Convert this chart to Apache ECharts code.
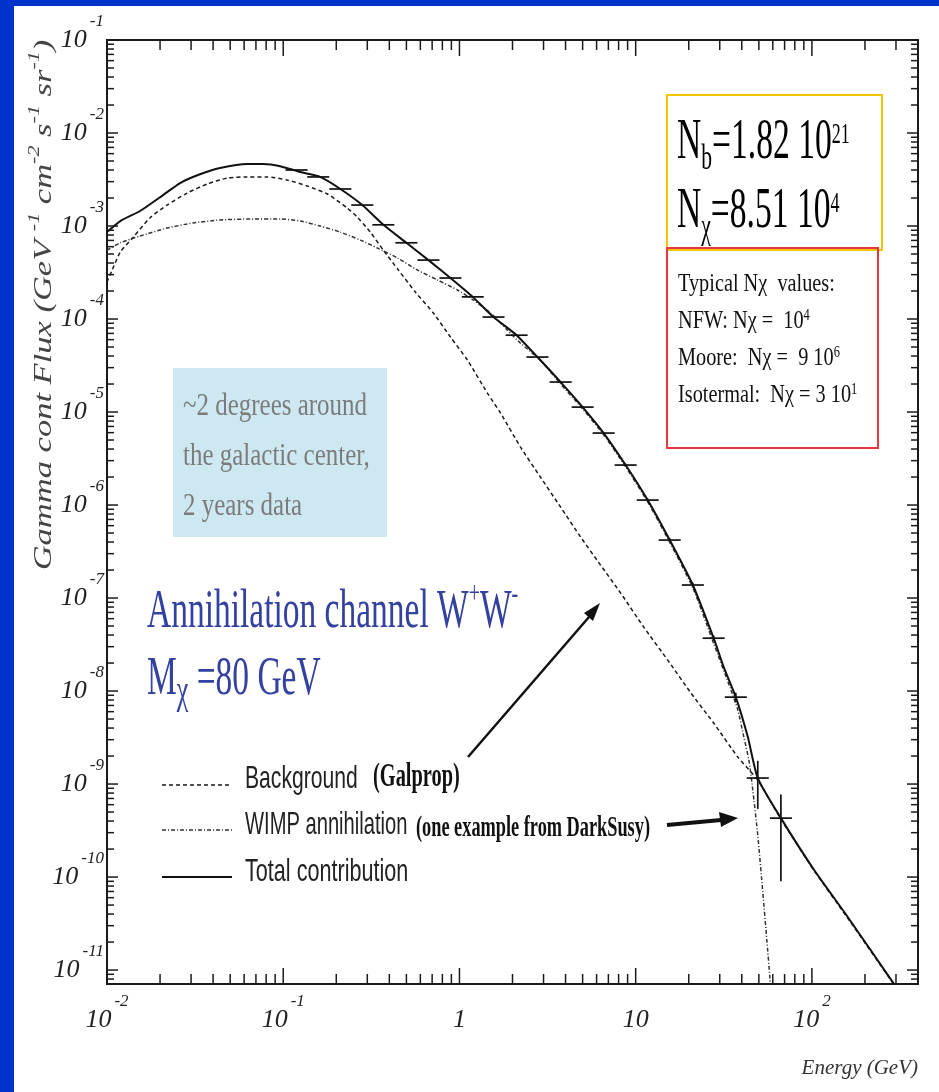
<!DOCTYPE html>
<html>
<head>
<meta charset="utf-8">
<script src="https://cdn.jsdelivr.net/npm/echarts@6/dist/echarts.min.js"></script>
<style>
  html, body { margin: 0; padding: 0; background: #fff; }
  #chart { width: 939px; height: 1092px; }
</style>
</head>
<body>
<div id="chart"></div>
<script>
// values: energy in GeV, flux in GeV^-1 cm^-2 s^-1 sr^-1
const totalEnergy = [0.01, 0.0119, 0.0154, 0.0208, 0.026, 0.0337, 0.0438, 0.0624, 0.0769, 0.0961, 0.125, 0.162, 0.211, 0.281, 0.37, 0.5, 0.667, 0.889, 1.19, 1.56, 2.11, 2.77, 3.75, 5.0, 6.58, 8.77, 11.7, 15.6, 21.1, 27.7, 31.6, 37.0, 43.3, 49.3, 66.7, 103, 160, 292];
const totalFlux = [8.6e-4, 1.13e-3, 1.45e-3, 2.15e-3, 2.9e-3, 3.6e-3, 4.2e-3, 4.65e-3, 4.65e-3, 4.4e-3, 3.8e-3, 3.37e-3, 2.5e-3, 1.68e-3, 1.03e-3, 6.6e-4, 4.3e-4, 2.76e-4, 1.73e-4, 1.05e-4, 6.7e-5, 3.9e-5, 2.1e-5, 1.13e-5, 5.94e-6, 2.69e-6, 1.13e-6, 4.2e-7, 1.38e-7, 3.7e-8, 1.81e-8, 8.6e-9, 3.2e-9, 1.16e-9, 4.3e-10, 1.19e-10, 3.7e-11, 7.1e-12];

const bgEnergy = [0.01, 0.0107, 0.0119, 0.0141, 0.0175, 0.0219, 0.0285, 0.037, 0.0481, 0.0624, 0.0811, 0.105, 0.137, 0.178, 0.231, 0.263, 0.312, 0.37, 0.45, 0.562, 0.711, 0.889, 1.11, 1.44, 1.71, 2.22, 2.88, 3.75, 4.87, 6.32, 8.22, 11.1, 15.2, 20.6, 27.7, 38.0, 49.3, 66.7, 103, 160, 292];
const bgFlux = [2.5e-4, 3.37e-4, 5.25e-4, 7.6e-4, 1.22e-3, 1.68e-3, 2.26e-3, 2.83e-3, 3.28e-3, 3.37e-3, 3.37e-3, 3.13e-3, 2.69e-3, 2.21e-3, 1.56e-3, 1.25e-3, 8.6e-4, 5.5e-4, 3.37e-4, 1.95e-4, 1.16e-4, 6.4e-5, 3.62e-5, 1.6e-5, 9.75e-6, 4.2e-6, 2.0e-6, 9.5e-7, 4.53e-7, 2.26e-7, 1.13e-7, 4.88e-8, 2.15e-8, 9.5e-9, 4.53e-9, 1.95e-9, 1.1e-9, 4.2e-10, 1.17e-10, 3.6e-11, 7.0e-12];

const wimpEnergy = [0.01, 0.0119, 0.0154, 0.0219, 0.0308, 0.0438, 0.065, 0.0961, 0.125, 0.162, 0.211, 0.274, 0.342, 0.445, 0.577, 0.75, 0.975, 1.2, 1.5, 1.87, 2.22, 2.88, 3.75, 5.0, 6.58, 8.77, 11.7, 15.6, 21.1, 27.7, 34.7, 38.0, 41.1, 43.9, 46.2, 49.3, 52.7, 55.5, 57.7, 58.4];
const wimpFlux = [5.5e-4, 6.6e-4, 7.8e-4, 9.5e-4, 1.08e-3, 1.16e-3, 1.19e-3, 1.19e-3, 1.13e-3, 1.0e-3, 8.6e-4, 7.06e-4, 5.8e-4, 4.53e-4, 3.37e-4, 2.63e-4, 2.05e-4, 1.6e-4, 1.16e-4, 7.6e-5, 5.5e-5, 3.6e-5, 2.0e-5, 1.08e-5, 5.7e-6, 2.58e-6, 1.08e-6, 3.98e-7, 1.29e-7, 3.25e-8, 1.03e-8, 6.25e-9, 3.2e-9, 1.81e-9, 8.6e-10, 2.83e-10, 6.7e-11, 2.1e-11, 8.4e-12, 5.0e-12];

// simulated data points (crosses): bin centre, flux and flux error
const pointEnergy = [0.119, 0.158, 0.211, 0.281, 0.37, 0.5, 0.667, 0.889, 1.19, 1.56, 2.11, 2.77, 3.75, 5.0, 6.58, 8.77, 11.7, 15.6, 21.1, 27.7, 37.0, 49.3, 66.7];
const pointFlux = [4.0e-3, 3.37e-3, 2.5e-3, 1.68e-3, 1.03e-3, 6.6e-4, 4.3e-4, 2.76e-4, 1.73e-4, 1.05e-4, 6.7e-5, 3.9e-5, 2.1e-5, 1.13e-5, 5.94e-6, 2.69e-6, 1.13e-6, 4.2e-7, 1.38e-7, 3.7e-8, 8.6e-9, 1.16e-9, 4.3e-10];
const pointErr = [4e-5, 3e-5, 2.5e-5, 2e-5, 1.3e-5, 9e-6, 6e-6, 4e-6, 3e-6, 2e-6, 1.3e-6, 8e-7, 5e-7, 3e-7, 1.7e-7, 9e-8, 4.5e-8, 2e-8, 8e-9, 2.5e-9, 1e-9, 6.2e-10, 3.4e-10];
const binHalfDex = 0.0625; // half width of an energy bin, in decades

// axes (decade exponents that get a label)
const xDecades = [-2, -1, 0, 1, 2];
const yDecades = [-11, -10, -9, -8, -7, -6, -5, -4, -3, -2, -1];
const xMin = 0.01, xMax = 400;
const yMin = 7.08e-12, yMax = 0.1;

const lg = Math.log10;
const serif = '"Liberation Serif", "Times New Roman", serif';
const sans = '"Liberation Sans", Arial, sans-serif';

const toXY = (es, fs) => es.map((e, i) => [lg(e), lg(fs[i])]);

// 10^n label with rich text superscript
const decadeLabel = (v, decades) => {
  const n = Math.round(v);
  if (Math.abs(v - n) > 1e-6 || decades.indexOf(n) < 0) return '';
  if (n === 0) return '{b|1}';
  if (n === 1) return '{b|10}';
  return '{b|10}{s|' + n + '}';
};
const labelRich = {
  b: { fontFamily: serif, fontStyle: 'italic', fontSize: 26, lineHeight: 54, color: '#222', verticalAlign: 'middle' },
  s: { fontFamily: serif, fontStyle: 'italic', fontSize: 17, lineHeight: 17, color: '#222', verticalAlign: 'top', padding: [0, 0, 0, 3] }
};

// log-spaced tick marks (1..9 per decade), drawn on all four sides
const xTicks = [];
for (let d = xDecades[0]; d <= xDecades[xDecades.length - 1]; d++) {
  for (let k = 1; k <= 9; k++) {
    const v = lg(k) + d;
    if (v < lg(xMax) - 1e-9) xTicks.push([v, lg(yMin), k === 1 ? 1 : 0]);
  }
}
const yTicks = [];
for (let d = yDecades[0] - 1; d <= yDecades[yDecades.length - 1]; d++) {
  for (let k = 1; k <= 9; k++) {
    const v = lg(k) + d;
    if (v > lg(yMin) + 1e-9 && v <= lg(yMax) + 1e-9) yTicks.push([lg(xMin), v, k === 1 ? 1 : 0]);
  }
}

const tickStyle = { stroke: '#1a1a1a', lineWidth: 1.5 };

const chart = echarts.init(document.getElementById('chart'));

const option = {
  backgroundColor: '#fff',
  animation: false,
  grid: {
    left: 107, top: 40, right: 21, bottom: 108,
    show: true, borderColor: '#1a1a1a', borderWidth: 2,
    outerBoundsMode: 'none'
  },
  xAxis: {
    type: 'value', min: lg(xMin), max: lg(xMax), splitNumber: 5,
    axisLine: { show: false }, axisTick: { show: false }, splitLine: { show: false },
    axisLabel: { margin: 9, formatter: v => decadeLabel(v, xDecades), rich: labelRich },
    name: 'Energy (GeV)', nameLocation: 'end', nameGap: 0,
    nameTextStyle: {
      fontFamily: serif, fontStyle: 'italic', fontSize: 21, color: '#333',
      align: 'right', verticalAlign: 'top', padding: [74, 0, 0, 0]
    }
  },
  yAxis: {
    type: 'value', min: lg(yMin), max: lg(yMax), splitNumber: 10,
    axisLine: { show: false }, axisTick: { show: false }, splitLine: { show: false },
    axisLabel: { margin: 3, formatter: v => decadeLabel(v, yDecades), rich: labelRich }
  },
  series: [
    {
      name: 'Background', type: 'line', data: toXY(bgEnergy, bgFlux),
      symbol: 'none', smooth: 0.2, z: 3,
      lineStyle: { color: '#1a1a1a', width: 1.5, type: [4, 3] }
    },
    {
      name: 'WIMP annihilation', type: 'line', data: toXY(wimpEnergy, wimpFlux),
      symbol: 'none', smooth: 0.2, z: 3,
      lineStyle: { color: '#333', width: 1.5, type: [4, 2, 1, 2] }
    },
    {
      name: 'Total contribution', type: 'line', data: toXY(totalEnergy, totalFlux),
      symbol: 'none', smooth: 0.2, z: 4,
      lineStyle: { color: '#111', width: 2 }
    },
    {
      name: 'Data', type: 'custom', z: 5, silent: true,
      encode: { x: 0, y: 1 },
      data: pointEnergy.map((e, i) => [lg(e), lg(pointFlux[i]), lg(pointFlux[i] - pointErr[i]), lg(pointFlux[i] + pointErr[i])]),
      renderItem: (params, api) => {
        const x = api.value(0), y = api.value(1);
        const c = api.coord([x, y]);
        const l = api.coord([x - binHalfDex, y]);
        const r = api.coord([x + binHalfDex, y]);
        const lo = api.coord([x, api.value(2)]);
        const hi = api.coord([x, api.value(3)]);
        const st = { stroke: '#111', lineWidth: 1.7 };
        return {
          type: 'group', children: [
            { type: 'line', shape: { x1: l[0], y1: c[1], x2: r[0], y2: c[1] }, style: st },
            { type: 'line', shape: { x1: c[0], y1: lo[1], x2: c[0], y2: hi[1] }, style: st }
          ]
        };
      }
    },
    {
      name: 'xTicks', type: 'custom', z: 6, silent: true,
      encode: { x: 0, y: 1 }, data: xTicks,
      renderItem: (params, api) => {
        const cs = params.coordSys;
        const px = api.coord([api.value(0), api.value(1)])[0];
        const len = api.value(2) ? 16 : 10;
        const bottom = cs.y + cs.height;
        return {
          type: 'group', children: [
            { type: 'line', shape: { x1: px, y1: bottom, x2: px, y2: bottom - len }, style: tickStyle },
            { type: 'line', shape: { x1: px, y1: cs.y, x2: px, y2: cs.y + len }, style: tickStyle }
          ]
        };
      }
    },
    {
      name: 'yTicks', type: 'custom', z: 6, silent: true,
      encode: { x: 0, y: 1 }, data: yTicks,
      renderItem: (params, api) => {
        const cs = params.coordSys;
        const py = api.coord([api.value(0), api.value(1)])[1];
        const len = api.value(2) ? 11 : 7;
        const right = cs.x + cs.width;
        return {
          type: 'group', children: [
            { type: 'line', shape: { x1: cs.x, y1: py, x2: cs.x + len, y2: py }, style: tickStyle },
            { type: 'line', shape: { x1: right, y1: py, x2: right - len, y2: py }, style: tickStyle }
          ]
        };
      }
    }
  ],
  graphic: {
    elements: [
      // slide frame
      { type: 'rect', silent: true, shape: { x: 0, y: 0, width: 14, height: 1092 }, style: { fill: '#0033cc' } },
      { type: 'rect', silent: true, shape: { x: 0, y: 0, width: 939, height: 6 }, style: { fill: '#0033cc' } },

      // y axis title
      {
        type: 'text', silent: true, x: 44, y: 305, rotation: Math.PI / 2, scaleX: 1.38,
        style: {
          text: 'Gamma cont Flux (GeV {sup|-1} cm{sup|-2} s{sup|-1} sr{sup|-1})',
          fontFamily: serif, fontStyle: 'italic', fontSize: 25, lineHeight: 34, fill: '#444',
          align: 'center', verticalAlign: 'middle',
          rich: { sup: { fontFamily: serif, fontStyle: 'italic', fontSize: 16, lineHeight: 16, verticalAlign: 'top', fill: '#444' } }
        }
      },

      // observation note
      { type: 'rect', silent: true, shape: { x: 173, y: 368, width: 214, height: 169 }, style: { fill: '#cde8f0' } },
      {
        type: 'text', silent: true, x: 183, y: 382, scaleX: 0.78,
        style: {
          text: '~2 degrees around\nthe galactic center,\n2 years data',
          fontFamily: serif, fontSize: 32, lineHeight: 50, fill: '#7b7b7b', align: 'left', verticalAlign: 'top'
        }
      },

      // channel / mass
      {
        type: 'text', silent: true, x: 147, y: 579, scaleX: 0.62,
        style: {
          text: 'Annihilation channel W{sup|+}W{sup|-}\nM{chi|\u03c7} =80 GeV',
          fontFamily: serif, fontSize: 54, lineHeight: 67, fill: '#3341a0', align: 'left', verticalAlign: 'top',
          rich: {
            sup: { fontFamily: serif, fontSize: 32, lineHeight: 32, verticalAlign: 'top', fill: '#3341a0' },
            chi: { fontFamily: serif, fontSize: 42, lineHeight: 42, verticalAlign: 'bottom', fill: '#3341a0' }
          }
        }
      },

      // fit result box
      { type: 'rect', silent: true, shape: { x: 667, y: 95, width: 215, height: 155 }, style: { fill: 'none', stroke: '#f5c400', lineWidth: 2 } },
      { type: 'rect', silent: true, shape: { x: 667, y: 248, width: 211, height: 200 }, style: { fill: 'none', stroke: '#e8383d', lineWidth: 2 } },
      {
        type: 'text', silent: true, x: 677, y: 108, scaleX: 0.6,
        style: {
          text: 'N{sub|b}=1.82 10{sup|21}',
          fontFamily: serif, fontSize: 56, lineHeight: 70, fill: '#000', align: 'left', verticalAlign: 'top',
          rich: {
            sub: { fontFamily: serif, fontSize: 36, lineHeight: 36, verticalAlign: 'bottom', fill: '#000' },
            sup: { fontFamily: serif, fontSize: 30, lineHeight: 44, verticalAlign: 'top', padding: [12, 0, 0, 0], fill: '#000' }
          }
        }
      },
      {
        type: 'text', silent: true, x: 677, y: 177, scaleX: 0.6,
        style: {
          text: 'N{sub|\u03c7}=8.51 10{sup|4}',
          fontFamily: serif, fontSize: 56, lineHeight: 70, fill: '#000', align: 'left', verticalAlign: 'top',
          rich: {
            sub: { fontFamily: serif, fontSize: 36, lineHeight: 36, verticalAlign: 'bottom', fill: '#000' },
            sup: { fontFamily: serif, fontSize: 30, lineHeight: 44, verticalAlign: 'top', padding: [12, 0, 0, 0], fill: '#000' }
          }
        }
      },
      {
        type: 'text', silent: true, x: 678, y: 266, scaleX: 0.78,
        style: {
          text: 'Typical N\u03c7  values:\nNFW: N\u03c7 =  10{sup|4}\nMoore:  N\u03c7 =  9 10{sup|6}\nIsotermal:  N\u03c7 = 3 10{sup|1}',
          fontFamily: serif, fontSize: 26, lineHeight: 37, fill: '#111', align: 'left', verticalAlign: 'top',
          rich: { sup: { fontFamily: serif, fontSize: 16, lineHeight: 16, verticalAlign: 'top', padding: [5, 0, 0, 0], fill: '#111' } }
        }
      },

      // legend
      { type: 'line', silent: true, shape: { x1: 162, y1: 785, x2: 232, y2: 785 }, style: { stroke: '#1a1a1a', lineWidth: 1.5, lineDash: [4, 3] } },
      { type: 'line', silent: true, shape: { x1: 162, y1: 830, x2: 232, y2: 830 }, style: { stroke: '#333', lineWidth: 1.5, lineDash: [4, 2, 1, 2] } },
      { type: 'line', silent: true, shape: { x1: 162, y1: 877, x2: 232, y2: 877 }, style: { stroke: '#111', lineWidth: 2 } },
      { type: 'text', silent: true, x: 245, y: 779, scaleX: 0.66, style: { text: 'Background', fontFamily: sans, fontSize: 32, fill: '#222', align: 'left', verticalAlign: 'middle' } },
      { type: 'text', silent: true, x: 373, y: 777, scaleX: 0.6, style: { text: '(Galprop)', fontFamily: serif, fontWeight: 'bold', fontSize: 34, fill: '#111', align: 'left', verticalAlign: 'middle' } },
      { type: 'text', silent: true, x: 245, y: 825, scaleX: 0.63, style: { text: 'WIMP annihilation', fontFamily: sans, fontSize: 32, fill: '#222', align: 'left', verticalAlign: 'middle' } },
      { type: 'text', silent: true, x: 416, y: 828, scaleX: 0.61, style: { text: '(one example from DarkSusy)', fontFamily: serif, fontWeight: 'bold', fontSize: 30, fill: '#111', align: 'left', verticalAlign: 'middle' } },
      { type: 'text', silent: true, x: 245, y: 872, scaleX: 0.675, style: { text: 'Total contribution', fontFamily: sans, fontSize: 32, fill: '#222', align: 'left', verticalAlign: 'middle' } },

      // arrows from the legend to the curves
      { type: 'line', silent: true, shape: { x1: 468, y1: 757, x2: 589, y2: 617 }, style: { stroke: '#111', lineWidth: 2.5 } },
      { type: 'polygon', silent: true, shape: { points: [[600, 603], [593, 621], [584, 613]] }, style: { fill: '#111' } },
      { type: 'line', silent: true, shape: { x1: 667, y1: 825, x2: 721, y2: 820 }, style: { stroke: '#111', lineWidth: 4 } },
      { type: 'polygon', silent: true, shape: { points: [[738, 818], [721, 827], [719, 812]] }, style: { fill: '#111' } }
    ]
  }
};

chart.setOption(option);
</script>
</body>
</html>
